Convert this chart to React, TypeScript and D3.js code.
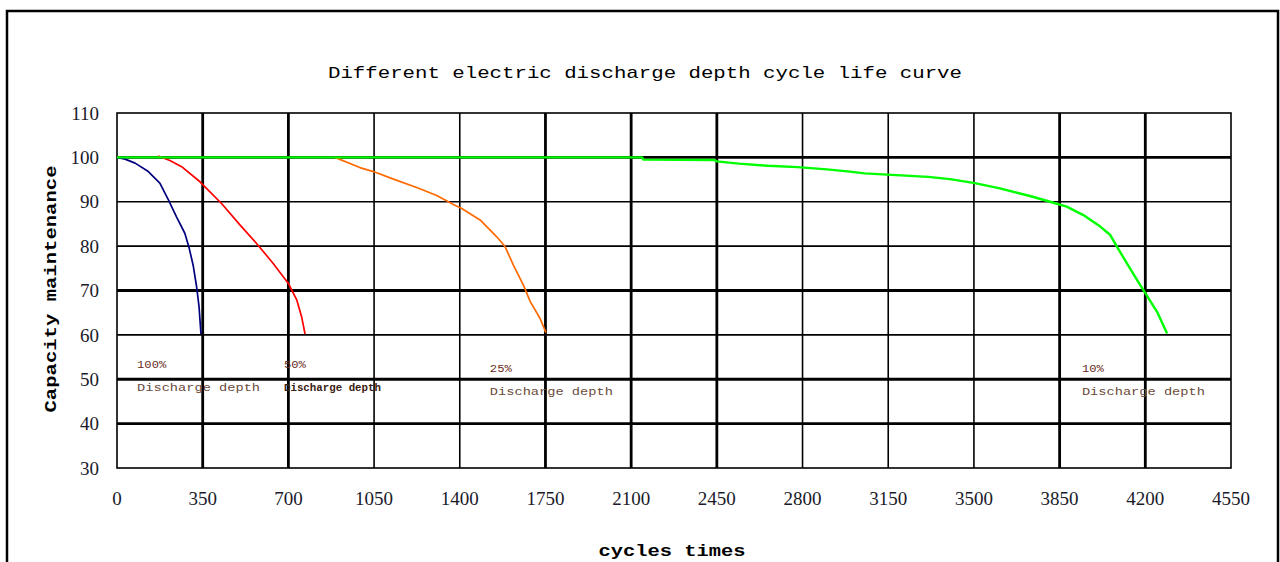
import React from "react";
import * as d3 from "d3";

// ---- data ----
const xTicks = [0, 350, 700, 1050, 1400, 1750, 2100, 2450, 2800, 3150, 3500, 3850, 4200, 4550];
const yTicks = [30, 40, 50, 60, 70, 80, 90, 100, 110];
const thickX = [350, 700, 1750, 2100, 2450, 3850, 4200];
const thickY = [100, 70, 50, 40];

const dod100Cycles = [0, 33, 74, 128, 175, 210, 243, 277, 295, 311, 325, 335, 343];
const dod100Values = [100, 99.6, 98.7, 96.8, 94.2, 90.4, 86.6, 82.9, 79.5, 75.7, 70.9, 66.4, 60.2];

const dod50Cycles = [168, 216, 264, 339, 427, 502, 570, 638, 700, 734, 754, 768];
const dod50Values = [100.3, 99.3, 97.9, 94.5, 89.6, 84.8, 80.6, 76.1, 71.6, 67.9, 64.1, 60.2];

const dod25Cycles = [890, 992, 1047, 1129, 1224, 1306, 1374, 1408, 1483, 1551, 1585, 1619, 1660, 1688, 1728, 1752];
const dod25Values = [100, 97.7, 96.8, 95.1, 93.2, 91.4, 89.4, 88.5, 85.9, 82.1, 79.9, 75.7, 71.2, 67.5, 63.7, 60.5];

const dod10Cycles = [0, 2145, 2150, 2440, 2450, 2540, 2660, 2780, 2900, 2993, 3054, 3183, 3313, 3402, 3504, 3606, 3729, 3811, 3879, 3947, 4016, 4057, 4084, 4125, 4166, 4200, 4248, 4289];
const dod10Values = [100, 100, 99.5, 99.4, 99.1, 98.6, 98.1, 97.8, 97.3, 96.8, 96.4, 96.0, 95.6, 95.1, 94.2, 93.0, 91.3, 90.0, 88.9, 87.0, 84.4, 82.5, 79.9, 76.1, 72.4, 69.4, 65.2, 60.3];

const labelPercents = ["100%", "50%", "25%", "10%"];
const labelCycles = [82, 682, 1523, 3941];
const labelValues = [53.5, 53.5, 52.5, 52.5];

const titleText = "Different electric discharge depth cycle life curve";
const yTitle = "Capacity maintenance";
const xTitle = "cycles times";

export default function App() {
  const W = 1280;
  const H = 562;
  const x = d3.scaleLinear().domain([0, 4550]).range([117, 1231]);
  const y = d3.scaleLinear().domain([30, 110]).range([468, 113]);

  const mk = (cs: number[], vs: number[]) =>
    d3
      .line<number>()
      .x((_, i) => x(cs[i]))
      .y((_, i) => y(vs[i]))(cs) as string;

  const series = [
    { c: dod100Cycles, v: dod100Values, color: "#00007f", w: 1.7 },
    { c: dod50Cycles, v: dod50Values, color: "#ff0000", w: 1.7 },
    { c: dod25Cycles, v: dod25Values, color: "#ff6a00", w: 1.7 },
    { c: dod10Cycles, v: dod10Values, color: "#00ff00", w: 2.4 },
  ];

  const mono = "'Liberation Mono', 'DejaVu Sans Mono', monospace";
  const serif = "'Liberation Serif', 'DejaVu Serif', serif";

  return (
    <svg
      width={W}
      height={H}
      style={{ position: "absolute", left: 0, top: 0, display: "block", background: "#fff" }}
    >
      <rect x={0} y={0} width={W} height={H} fill="#fff" />
      {/* outer frame */}
      <path d={`M7,${H + 5} L7,11 L1278,11 L1278,${H + 5}`} fill="none" stroke="#000" strokeWidth={2.5} />

      {/* title */}
      <text
        x={645}
        y={78}
        textAnchor="middle"
        fontFamily={mono}
        fontSize={17}
        textLength={634}
        lengthAdjust="spacingAndGlyphs"
        fill="#000"
      >
        {titleText}
      </text>

      {/* grid */}
      {xTicks.slice(1, -1).map((t) => (
        <line
          key={"gx" + t}
          x1={x(t)}
          x2={x(t)}
          y1={y(110)}
          y2={y(30)}
          stroke="#000"
          strokeWidth={thickX.includes(t) ? 2.8 : 1.6}
        />
      ))}
      {yTicks.slice(1, -1).map((t) => (
        <line
          key={"gy" + t}
          x1={x(0)}
          x2={x(4550)}
          y1={y(t)}
          y2={y(t)}
          stroke="#000"
          strokeWidth={thickY.includes(t) ? 2.8 : 1.6}
        />
      ))}
      <rect
        x={x(0)}
        y={y(110)}
        width={x(4550) - x(0)}
        height={y(30) - y(110)}
        fill="none"
        stroke="#000"
        strokeWidth={1.6}
      />

      {/* curves */}
      {series.map((s, i) => (
        <path key={"s" + i} d={mk(s.c, s.v)} fill="none" stroke={s.color} strokeWidth={s.w} strokeLinejoin="round" />
      ))}

      {/* annotations */}
      {labelPercents.map((p, i) => (
        <g key={"lab" + i}>
          <text
            x={x(labelCycles[i])}
            y={y(labelValues[i]) + 4}
            fontFamily={mono}
            fontSize={11}
            fill="#6a2a1a"
            textLength={p.length * 7.3}
            lengthAdjust="spacingAndGlyphs"
          >
            {p}
          </text>
          <text
            x={x(labelCycles[i])}
            y={y(labelValues[i]) + 27}
            fontFamily={mono}
            fontSize={11}
            fontWeight={i === 1 ? "bold" : "normal"}
            fill={i === 1 ? "#3a2010" : "#6a4a3a"}
            textLength={i === 1 ? 97 : 123}
            lengthAdjust="spacingAndGlyphs"
          >
            Discharge depth
          </text>
        </g>
      ))}

      {/* y tick labels */}
      {yTicks.map((t) => (
        <text
          key={"yl" + t}
          x={99}
          y={y(t)}
          dy="0.35em"
          textAnchor="end"
          fontFamily={serif}
          fontSize={19}
          fill="#1a1a2a"
        >
          {t}
        </text>
      ))}

      {/* x tick labels */}
      {xTicks.map((t) => (
        <text
          key={"xl" + t}
          x={x(t)}
          y={498}
          dy="0.35em"
          textAnchor="middle"
          fontFamily={serif}
          fontSize={19}
          fill="#1a1a2a"
        >
          {t}
        </text>
      ))}

      {/* axis titles */}
      <text
        transform={`translate(56,289) rotate(-90)`}
        textAnchor="middle"
        fontFamily={mono}
        fontSize={17}
        fontWeight="bold"
        textLength={247}
        lengthAdjust="spacingAndGlyphs"
        fill="#000"
      >
        {yTitle}
      </text>
      <text
        x={672}
        y={556}
        textAnchor="middle"
        fontFamily={mono}
        fontSize={17}
        fontWeight="bold"
        textLength={147}
        lengthAdjust="spacingAndGlyphs"
        fill="#000"
      >
        {xTitle}
      </text>
    </svg>
  );
}
